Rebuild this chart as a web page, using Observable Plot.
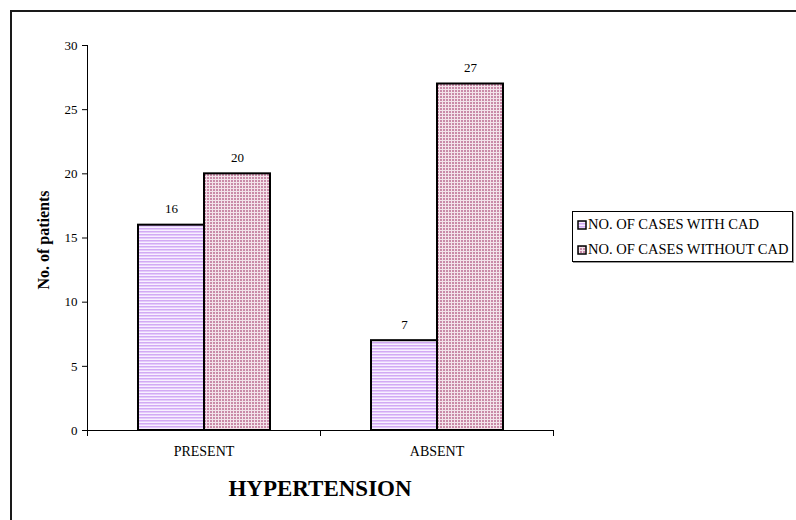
<!DOCTYPE html>
<html>
<head>
<meta charset="utf-8">
<script src="https://cdn.jsdelivr.net/npm/d3@7"></script>
<script src="https://cdn.jsdelivr.net/npm/@observablehq/plot@0.6"></script>
<style>
  html, body { margin: 0; padding: 0; background: #fff; overflow: hidden; }
  #wrap { position: relative; width: 796px; height: 520px; font-family: "Liberation Serif", "Times New Roman", serif; color: #000; }
  #border { position: absolute; z-index: 5; pointer-events: none; left: 10px; top: 10px; width: 900px; height: 600px; border-left: 2px solid #1a1a1a; border-top: 2px solid #1a1a1a; box-sizing: border-box; }
  #chart { position: absolute; left: 0; top: 0; }
  #ylabel { position: absolute; left: 44px; top: 240px; transform: translate(-50%, -50%) rotate(-90deg); font-weight: bold; font-size: 16px; white-space: nowrap; }
  #title { position: absolute; left: 320px; top: 489px; transform: translate(-50%, -50%); font-weight: bold; font-size: 23px; white-space: nowrap; }
  #legend { position: absolute; left: 572px; top: 211px; width: 221px; height: 51px; border: 1px solid #000; box-sizing: border-box; box-shadow: 1px 1px 0 #999; font-size: 14.5px; }
  .item { position: absolute; left: 4px; display: flex; align-items: center; white-space: nowrap; }
  .item svg { margin-right: 1px; }
</style>
</head>
<body>
<div id="wrap">
  <div id="border"></div>
  <div id="chart"></div>
  <div id="ylabel">No. of patients</div>
  <div id="title">HYPERTENSION</div>
  <div id="legend"></div>
</div>
<script>
// Hypertension status, and patients with / without coronary artery disease
const categories = ["PRESENT", "ABSENT"];
const series = ["NO. OF CASES WITH CAD", "NO. OF CASES WITHOUT CAD"];
const withCad = [16, 7];
const withoutCad = [20, 27];
const yTicks = [0, 5, 10, 15, 20, 25, 30];
const fills = ["url(#hatch-with)", "url(#hatch-without)"];

const data = categories.flatMap((c, i) => [
  {hypertension: c, group: series[0], value: withCad[i]},
  {hypertension: c, group: series[1], value: withoutCad[i]}
]);

const chart = Plot.plot({
  width: 796,
  height: 520,
  marginLeft: 87,
  marginRight: 243,
  marginTop: 45,
  marginBottom: 90,
  style: {fontFamily: "Liberation Serif, Times New Roman, serif", fontSize: "13px", background: "transparent", color: "#000"},
  fx: {domain: categories, padding: 0, label: null},
  x: {domain: series, paddingInner: 0, paddingOuter: 0.739, axis: null},
  y: {domain: [0, 30]},
  color: {domain: series, range: fills},
  marks: [
    Plot.barY(data, {fx: "hypertension", x: "group", y: "value", fill: "group", stroke: "#000", strokeWidth: 2}),
    Plot.text(data, {fx: "hypertension", x: "group", y: "value", text: d => String(d.value), dy: -16, fontSize: 13, fill: "#000"}),
    Plot.ruleY([0], {stroke: "#000"}),
    Plot.axisY({ticks: yTicks, tickSize: 5, tickPadding: 5, label: null, fontSize: 13, stroke: "#000", fill: "#000"}),
    Plot.axisFx({anchor: "bottom", tickSize: 0, tickPadding: 16, label: null, fontSize: 14, fill: "#000"}),
    // y axis line, left facet only
    Plot.frame({anchor: "left", facetAnchor: "left", stroke: "#000"}),
    // category boundary ticks below the baseline
    Plot.frame({anchor: "left", insetTop: 385, insetBottom: -5, stroke: "#000"}),
    Plot.frame({anchor: "right", insetTop: 385, insetBottom: -5, facetAnchor: "right", stroke: "#000"})
  ]
});

// Fill patterns for the two series
d3.select(chart).insert("defs", ":first-child").html(`
  <pattern id="hatch-with" patternUnits="userSpaceOnUse" width="3" height="3">
    <rect width="3" height="3" fill="#e4cbfb"/>
    <rect y="0" width="3" height="1" fill="#d2aaf4"/>
    <rect y="2" width="3" height="1" fill="#f8f0ff"/>
  </pattern>
  <pattern id="hatch-without" patternUnits="userSpaceOnUse" width="3" height="3">
    <rect width="3" height="3" fill="#c98aa8"/>
    <rect x="2" width="1" height="3" fill="#f3e3ea"/>
    <rect y="2" width="3" height="1" fill="#f3e3ea"/>
  </pattern>`);

document.getElementById("chart").appendChild(chart);

// Legend
const legend = d3.select("#legend");
series.forEach((s, i) => {
  const item = legend.append("div").attr("class", "item").style("top", (i === 0 ? 4 : 29) + "px");
  const sw = item.append("svg").attr("width", 10).attr("height", 10);
  sw.append("rect").attr("x", 1).attr("y", 1).attr("width", 8).attr("height", 8)
    .attr("fill", fills[i]).attr("stroke", "#000").attr("stroke-width", 1.5);
  item.append("span").text(s);
});
</script>
</body>
</html>
